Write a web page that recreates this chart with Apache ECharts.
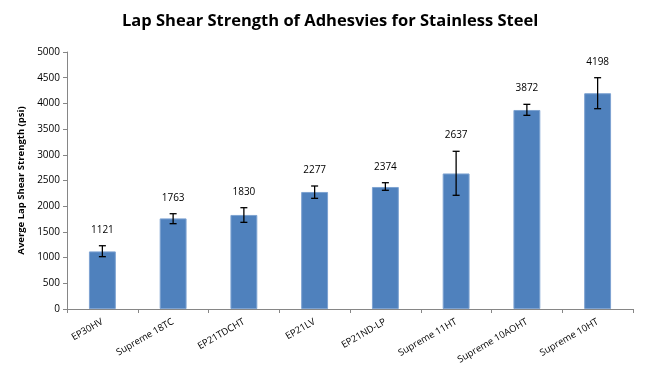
<!DOCTYPE html>
<html>
<head>
<meta charset="utf-8">
<script src="https://cdn.jsdelivr.net/npm/echarts@6/dist/echarts.min.js"></script>
<style>
  html, body { margin: 0; padding: 0; background: #fff; }
  #chart { width: 650px; height: 377px; }
</style>
</head>
<body>
<div id="chart"></div>
<script>
// data
const categories = ['EP30HV', 'Supreme 18TC', 'EP21TDCHT', 'EP21LV', 'EP21ND-LP', 'Supreme 11HT', 'Supreme 10AOHT', 'Supreme 10HT'];
const strength = [1121, 1763, 1830, 2277, 2374, 2637, 3872, 4198];
const errLow = [1018, 1660, 1686, 2153, 2309, 2212, 3768, 3897];
const errHigh = [1231, 1854, 1971, 2393, 2457, 3068, 3982, 4500];

const errData = categories.map((c, i) => [i, errLow[i], errHigh[i], strength[i]]);

const chart = echarts.init(document.getElementById('chart'));

chart.setOption({
    animation: false,
    title: {
        text: 'Lap Shear Strength of Adhesvies for Stainless Steel',
        left: 117,
        top: 8,
        textStyle: { fontFamily: 'Open Sans', fontSize: 16.5, fontWeight: 'bold', color: '#000' }
    },
    grid: { left: 67, right: 17, top: 52, bottom: 68 },
    xAxis: {
        type: 'category',
        data: categories,
        axisLine: { lineStyle: { color: '#868686' } },
        axisTick: { show: true, alignWithLabel: false, length: 4, lineStyle: { color: '#868686' } },
        axisLabel: { rotate: 30, fontFamily: 'Open Sans', fontSize: 9.5, color: '#000', margin: 12 }
    },
    yAxis: {
        type: 'value',
        min: 0,
        max: 5000,
        interval: 500,
        name: 'Averge Lap Shear Strength (psi)',
        nameLocation: 'middle',
        nameGap: 35,
        nameTextStyle: { fontFamily: 'Open Sans', fontSize: 9.5, fontWeight: 'bold', color: '#000' },
        splitLine: { show: false },
        axisLine: { show: true, lineStyle: { color: '#868686' } },
        axisTick: { show: true, length: 4, lineStyle: { color: '#868686' } },
        axisLabel: { fontFamily: 'Open Sans', fontSize: 10, color: '#000', margin: 7, formatter: v => String(v) }
    },
    series: [
        {
            type: 'bar',
            data: strength,
            barWidth: '38%',
            itemStyle: { color: '#4f81bd', borderColor: '#7ea3d2', borderWidth: 1 }
        },
        {
            type: 'custom',
            data: errData,
            z: 10,
            renderItem: function (params, api) {
                const x = api.value(0);
                const lo = api.coord([x, api.value(1)]);
                const hi = api.coord([x, api.value(2)]);
                const cap = 3.5;
                const st = { stroke: '#000', lineWidth: 1.3 };
                return {
                    type: 'group',
                    children: [
                        { type: 'line', shape: { x1: hi[0], y1: hi[1], x2: lo[0], y2: lo[1] }, style: st },
                        { type: 'line', shape: { x1: hi[0] - cap, y1: hi[1], x2: hi[0] + cap, y2: hi[1] }, style: st },
                        { type: 'line', shape: { x1: lo[0] - cap, y1: lo[1], x2: lo[0] + cap, y2: lo[1] }, style: st },
                        {
                            type: 'text',
                            style: {
                                text: String(api.value(3)),
                                x: hi[0],
                                y: hi[1] - 16,
                                align: 'center',
                                verticalAlign: 'middle',
                                fontFamily: 'Open Sans',
                                fontSize: 10,
                                fill: '#000'
                            }
                        }
                    ]
                };
            }
        }
    ]
});
</script>
</body>
</html>
